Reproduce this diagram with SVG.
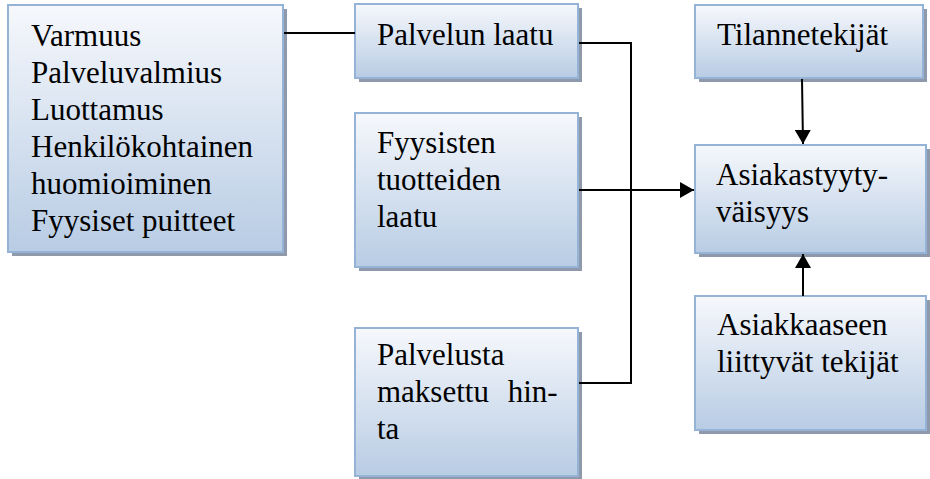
<svg xmlns="http://www.w3.org/2000/svg" width="930" height="479" viewBox="0 0 930 479">
  <style>
    .box { fill: url(#g); stroke: #95b3d7; stroke-width: 2; }
    .shadow { fill: #8e9aab; }
    text { font-size: 31px; fill: #000; }
    .c { fill: none; stroke: #000; stroke-width: 2; }
  </style>
  <defs>
    <linearGradient id="g" x1="0" y1="0" x2="0" y2="1">
      <stop offset="0" stop-color="#f6f8fc"/>
      <stop offset="1" stop-color="#b8cce4"/>
    </linearGradient>
    <marker id="arr" markerUnits="userSpaceOnUse" markerWidth="15" markerHeight="16" refX="14" refY="8" orient="auto">
      <path d="M0,0 L14,8 L0,16 Z" fill="#000"/>
    </marker>
  </defs>

  <g font-family="Liberation Serif, DejaVu Serif, serif">
  <g id="n1">
    <rect class="shadow" x="12" y="9" width="275" height="247"/>
    <rect class="box" x="8" y="5" width="275" height="247"/>
    <text x="31" y="46">Varmuus</text>
    <text x="31" y="83">Palveluvalmius</text>
    <text x="31" y="120">Luottamus</text>
    <text x="31" y="157">Henkilökohtainen</text>
    <text x="31" y="194">huomioiminen</text>
    <text x="31" y="231">Fyysiset puitteet</text>
  </g>

  <g id="n2">
    <rect class="shadow" x="359" y="8" width="223" height="74"/>
    <rect class="box" x="355" y="4" width="223" height="74"/>
    <text x="377" y="45">Palvelun laatu</text>
  </g>

  <g id="n3">
    <rect class="shadow" x="359" y="117" width="223" height="154"/>
    <rect class="box" x="355" y="113" width="223" height="154"/>
    <text x="377" y="153">Fyysisten</text>
    <text x="377" y="190">tuotteiden</text>
    <text x="377" y="227">laatu</text>
  </g>

  <g id="n4">
    <rect class="shadow" x="359" y="332" width="223" height="148"/>
    <rect class="box" x="355" y="328" width="223" height="148"/>
    <text x="377" y="365">Palvelusta</text>
    <text x="377" y="402" word-spacing="11">maksettu hin-</text>
    <text x="377" y="439">ta</text>
  </g>

  <g id="n5">
    <rect class="shadow" x="699" y="9" width="228" height="73"/>
    <rect class="box" x="695" y="5" width="228" height="73"/>
    <text x="717" y="45">Tilannetekijät</text>
  </g>

  <g id="n6">
    <rect class="shadow" x="699" y="149" width="231" height="108"/>
    <rect class="box" x="695" y="145" width="231" height="108"/>
    <text x="716" y="185">Asiakastyyty-</text>
    <text x="716" y="222">väisyys</text>
  </g>

  <g id="n7">
    <rect class="shadow" x="699" y="300" width="231" height="134"/>
    <rect class="box" x="695" y="296" width="231" height="134"/>
    <text x="717" y="335">Asiakkaaseen</text>
    <text x="717" y="372">liittyvät tekijät</text>
  </g>
  </g>

  <g id="connectors">
    <line class="c" x1="284" y1="33" x2="355" y2="33"/>
    <polyline class="c" points="579,43 631,43 631,383 579,383"/>
    <line class="c" x1="579" y1="190" x2="694" y2="190" marker-end="url(#arr)"/>
    <line class="c" x1="802" y1="79" x2="803" y2="144" marker-end="url(#arr)"/>
    <line class="c" x1="803" y1="296" x2="803" y2="254" marker-end="url(#arr)"/>
  </g>
</svg>
